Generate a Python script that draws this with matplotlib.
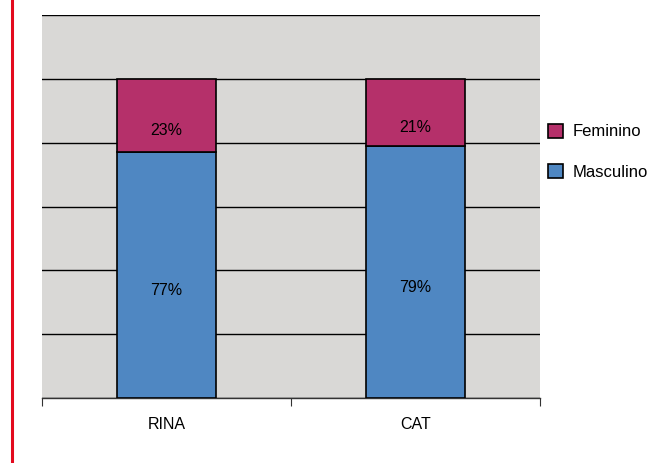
import numpy as np
import matplotlib
matplotlib.use("Agg")
from matplotlib import pyplot as plt
from matplotlib.patches import Patch
from matplotlib.lines import Line2D

categories = ["RINA", "CAT"]
masculino = [77, 79]
feminino = [23, 21]

blue = "#4F87C2"
magenta = "#B5306A"
bg = "#D9D8D6"

plt.rcParams['font.family'] = ['Liberation Sans', 'DejaVu Sans']

fig = plt.figure(figsize=(6.58, 4.63), dpi=100)
ax = fig.add_axes([42 / 658, 1 - 398 / 463, 498 / 658, 383 / 463])
ax.set_facecolor(bg)

x = np.arange(len(categories))
ax.bar(x, masculino, width=0.4, color=blue, edgecolor="black", linewidth=1.2, zorder=3)
ax.bar(x, feminino, width=0.4, bottom=masculino, color=magenta, edgecolor="black", linewidth=1.2, zorder=3)

# labels sit a bit below the segment centre, like the original
for i in range(len(categories)):
    ax.annotate(f"{masculino[i]}%", (x[i], masculino[i] / 2), xytext=(0, -11),
                textcoords="offset points", ha="center", va="center", fontsize=11.5, zorder=4)
    ax.annotate(f"{feminino[i]}%", (x[i], masculino[i] + feminino[i] / 2), xytext=(0, -11),
                textcoords="offset points", ha="center", va="center", fontsize=11.5, zorder=4)

ax.set_xlim(-0.5, 1.5)
ax.set_ylim(0, 120)
ax.set_yticks(np.arange(0, 121, 20))
ax.yaxis.grid(True, color="black", linewidth=1.0, zorder=1)
ax.set_axisbelow(True)
ax.tick_params(axis="y", left=False, labelleft=False)

ax.set_xticks([-0.5, 0.5, 1.5], minor=False)
ax.set_xticklabels([])
ax.tick_params(axis="x", direction="out", length=6, width=0.8, color="#333333")
ax.set_xticks(x, minor=True)
ax.set_xticklabels(categories, minor=True, fontsize=11.5)
ax.tick_params(axis="x", which="minor", length=0, pad=14)

for s in ["top", "left", "right"]:
    ax.spines[s].set_visible(False)
ax.spines["bottom"].set_color("#333333")
ax.spines["bottom"].set_linewidth(1.0)

handles = [Patch(facecolor=magenta, edgecolor="black", linewidth=1.2, label="Feminino"),
           Patch(facecolor=blue, edgecolor="black", linewidth=1.2, label="Masculino")]
fig.legend(handles=handles, loc="center left", bbox_to_anchor=(533 / 658, 1 - 152 / 463),
           frameon=False, fontsize=12, handlelength=0.9, handleheight=0.9,
           handletextpad=0.55, labelspacing=1.5)

fig.add_artist(Line2D([12 / 658, 12 / 658], [0, 1], color="#E30A1E", linewidth=2.2))

fig.savefig("out.png", dpi=100)
